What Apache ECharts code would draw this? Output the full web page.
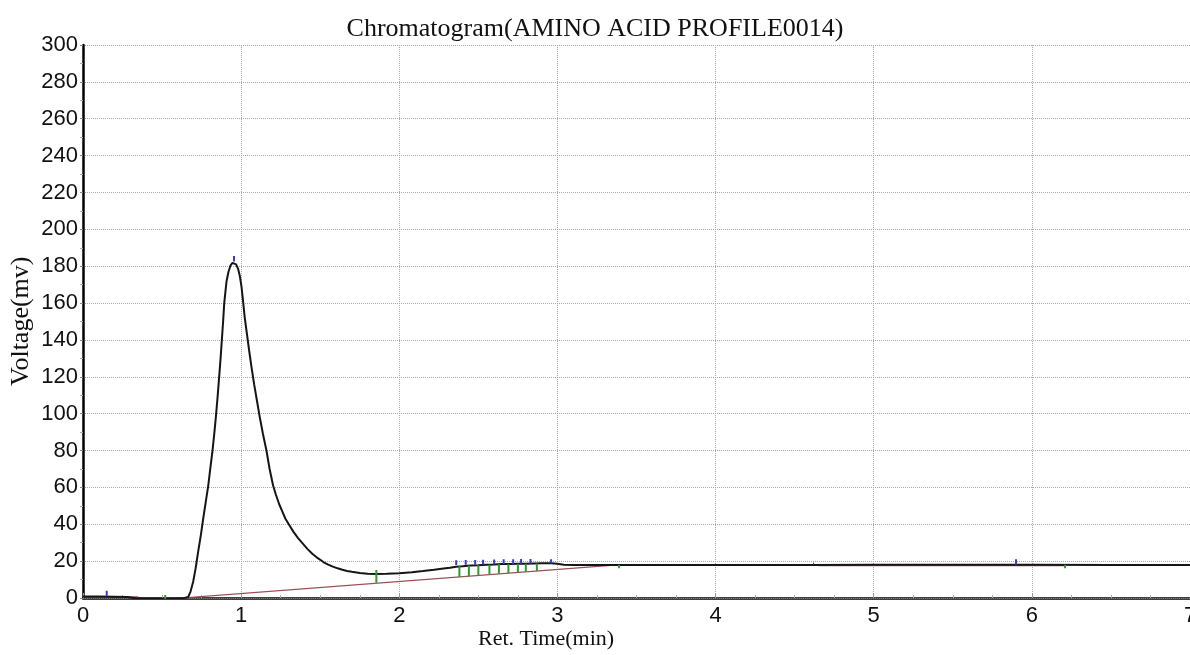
<!DOCTYPE html>
<html>
<head>
<meta charset="utf-8">
<script src="https://cdn.jsdelivr.net/npm/echarts@6/dist/echarts.min.js"></script>
<style>
html,body{margin:0;padding:0;background:#fff;}
#chart{width:1190px;height:655px;}
</style>
</head>
<body>
<div id="chart"></div>
<script>
// ---- data ----
var titleText = 'Chromatogram(AMINO ACID PROFILE0014)';
var xName = 'Ret. Time(min)';
var yName = 'Voltage(mv)';
var xTicks = [0, 1, 2, 3, 4, 5, 6, 7];
var yTicks = [0, 20, 40, 60, 80, 100, 120, 140, 160, 180, 200, 220, 240, 260, 280, 300];

// detector signal
var signalT = [0, 0.1, 0.2, 0.28, 0.33, 0.4, 0.5, 0.58, 0.63, 0.665, 0.68, 0.697, 0.712, 0.728, 0.745, 0.76, 0.776, 0.792, 0.806, 0.819, 0.83, 0.84, 0.851, 0.861, 0.87, 0.878, 0.886, 0.893, 0.901, 0.908, 0.92, 0.933, 0.945, 0.955, 0.968, 0.981, 0.992, 1.002, 1.012, 1.023, 1.037, 1.051, 1.066, 1.082, 1.1, 1.118, 1.138, 1.16, 1.18, 1.202, 1.22, 1.24, 1.26, 1.28, 1.305, 1.33, 1.36, 1.39, 1.42, 1.45, 1.485, 1.52, 1.55, 1.58, 1.61, 1.64, 1.67, 1.70, 1.75, 1.80, 1.855, 1.92, 2.0, 2.08, 2.15, 2.22, 2.28, 2.32, 2.36, 2.40, 2.45, 2.50, 2.55, 2.60, 2.65, 2.70, 2.75, 2.80, 2.85, 2.90, 2.96, 3.0, 3.04, 3.1, 3.4, 4.0, 4.6, 5.0, 5.5, 6.0, 6.5, 7.0];
var signalV = [0.8, 0.8, 0.7, 0.5, -0.1, -0.4, -0.4, -0.4, -0.2, 0.5, 3.5, 9, 16, 25, 34, 43, 52, 61, 71, 80, 89, 98, 109, 120, 130, 140, 150, 160, 166.5, 172, 177, 180.5, 181.8, 182, 181, 178.5, 174.5, 169, 161, 152, 143, 134, 125, 116, 107, 98, 89, 80, 70, 61, 56, 51, 47, 43, 39.5, 36, 32.5, 29.5, 26.5, 24, 21.6, 19.5, 18.1, 17, 16.1, 15.3, 14.7, 14.2, 13.6, 13.2, 13.0, 13.1, 13.4, 14.0, 14.6, 15.3, 16.0, 16.4, 17.0, 17.2, 17.6, 17.8, 18.1, 18.2, 18.4, 18.4, 18.6, 18.6, 18.7, 18.8, 18.9, 18.6, 18.1, 17.9, 17.9, 17.9, 17.9, 18.0, 18.0, 18.0, 17.9, 17.9];

// integration baselines (segments)
var baseSegT = [[0, 0.35], [0.58, 3.38], [4.65, 6.21]];
var baseSegV = [[0.7, 0.6], [-0.3, 18.0], [17.6, 17.6]];

// peak apex markers (blue)
var peakT = [0.15, 0.955, 2.36, 2.42, 2.48, 2.53, 2.60, 2.66, 2.72, 2.77, 2.83, 2.96, 5.90];
var peakLow = [1.0, 182.5, 17.9, 18.0, 18.0, 18.2, 18.3, 18.4, 18.4, 18.6, 18.6, 18.9, 18.0];
var peakHigh = [4.0, 185.5, 20.5, 20.6, 20.6, 20.8, 20.9, 21.0, 21.0, 21.2, 21.2, 21.0, 21.0];

// peak start / end drop lines (green)
var dropT = [0.52, 1.855, 2.38, 2.44, 2.50, 2.57, 2.63, 2.69, 2.75, 2.80, 2.87, 3.39, 6.21];
var dropLow = [-0.5, 8.3, 11.4, 11.8, 12.2, 12.7, 13.1, 13.5, 13.9, 14.2, 14.7, 16.2, 16.2];
var dropHigh = [1.6, 15.2, 17.2, 17.6, 17.8, 18.1, 18.3, 18.4, 18.6, 18.6, 18.7, 18.0, 18.0];

// other event marker (black)
var eventT = [4.62];
var eventLow = [17.9];
var eventHigh = [19.2];

// ---- build series data ----
function zip(a, b) { return a.map(function (v, i) { return [v, b[i]]; }); }
function segs(t, lo, hi) {
  var out = [];
  for (var i = 0; i < t.length; i++) {
    out.push([t[i], lo[i]]); out.push([t[i], hi[i]]); out.push([t[i], '-']);
  }
  return out;
}
function baseData() {
  var out = [];
  for (var i = 0; i < baseSegT.length; i++) {
    out.push([baseSegT[i][0], baseSegV[i][0]]);
    out.push([baseSegT[i][1], baseSegV[i][1]]);
    out.push([baseSegT[i][1], '-']);
  }
  return out;
}

var chart = echarts.init(document.getElementById('chart'), null, { renderer: 'canvas' });
var serif = '"Liberation Serif", "DejaVu Serif", serif';
var sans = '"Liberation Sans", Arial, sans-serif';

var option = {
  animation: false,
  backgroundColor: '#ffffff',
  title: {
    text: titleText, left: 'center', top: 11,
    textStyle: { fontFamily: serif, fontSize: 26, fontWeight: 'normal', color: '#111' }
  },
  grid: { left: 83, right: 0, top: 45, bottom: 57, containLabel: false, outerBoundsMode: 'none' },
  xAxis: [{
    type: 'value', min: xTicks[0], max: xTicks[xTicks.length - 1], interval: 1,
    axisLine: { show: true, onZero: false, lineStyle: { color: '#000', width: 2.5 } },
    axisTick: { show: true, inside: true, length: 5, lineStyle: { color: '#999' } },
    minorTick: { show: true, splitNumber: 4, length: 3, lineStyle: { color: '#aaa' } },
    axisLabel: { margin: 7, fontFamily: sans, fontSize: 22, color: '#111',
      formatter: function (v) { return xTicks.indexOf(v) >= 0 ? String(v) : ''; } },
    splitLine: { show: true, lineStyle: { color: '#a8a8a8', type: 'dotted', width: 1 } }
  }, {
    type: 'value', position: 'top', min: 0, max: 7,
    axisLine: { show: true, lineStyle: { color: '#777', width: 1, type: 'dotted' } },
    axisTick: { show: false }, axisLabel: { show: false }, splitLine: { show: false }
  }],
  yAxis: {
    type: 'value', min: yTicks[0], max: yTicks[yTicks.length - 1], interval: 20,
    axisLine: { show: true, lineStyle: { color: '#000', width: 2.5 } },
    axisTick: { show: true, inside: false, length: 3, lineStyle: { color: '#888' } },
    minorTick: { show: true, splitNumber: 2, length: 3, lineStyle: { color: '#aaa' } },
    axisLabel: { margin: 5, fontFamily: sans, fontSize: 22, color: '#111' },
    splitLine: { show: true, lineStyle: { color: '#a8a8a8', type: 'dotted', width: 1 } }
  },
  graphic: [
    { type: 'text', left: 478, top: 628,
      style: { text: xName, font: '22px ' + serif, fill: '#111' } },
    { type: 'text', x: 8, y: 386, rotation: Math.PI / 2,
      style: { text: yName, font: '26px ' + serif, fill: '#111' } }
  ],
  series: [
    { name: 'baseline', type: 'line', data: baseData(), symbol: 'none', connectNulls: false,
      lineStyle: { color: '#9a4f55', width: 1.3 }, z: 2 },
    { name: 'signal', type: 'line', data: zip(signalT, signalV), symbol: 'none', smooth: false,
      lineStyle: { color: '#151515', width: 2 }, z: 3 },
    { name: 'peaks', type: 'line', data: segs(peakT, peakLow, peakHigh), symbol: 'none', connectNulls: false,
      lineStyle: { color: '#3a3ad0', width: 2 }, z: 4 },
    { name: 'drops', type: 'line', data: segs(dropT, dropLow, dropHigh), symbol: 'none', connectNulls: false,
      lineStyle: { color: '#2f9a2f', width: 2 }, z: 4 },
    { name: 'events', type: 'line', data: segs(eventT, eventLow, eventHigh), symbol: 'none', connectNulls: false,
      lineStyle: { color: '#333', width: 1 }, z: 4 }
  ]
};
chart.setOption(option);
</script>
</body>
</html>
